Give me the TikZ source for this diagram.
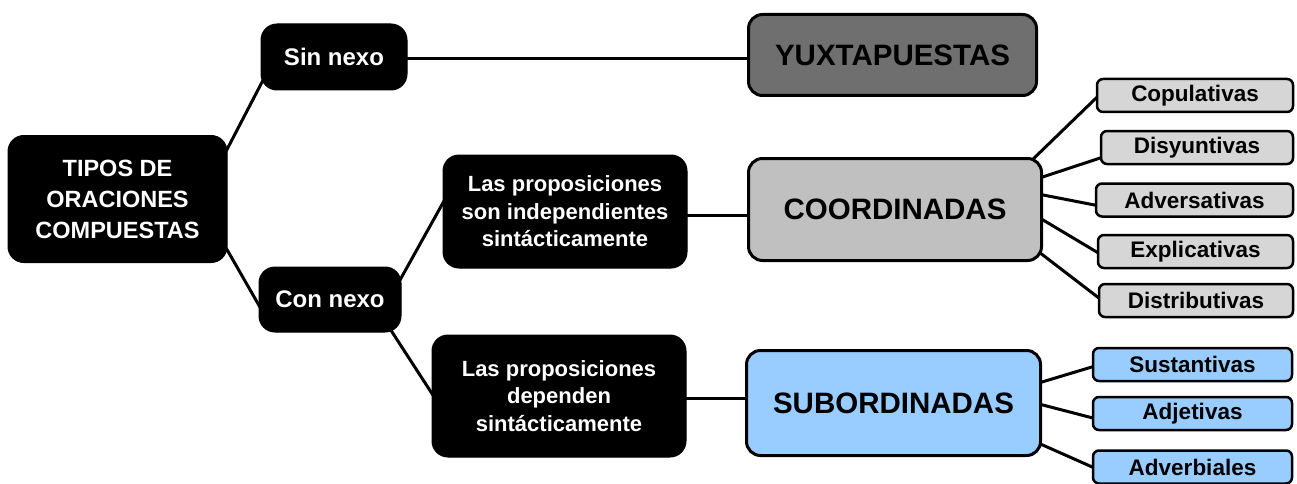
\documentclass[tikz,border=0pt]{standalone}
\usepackage{fontspec}
\setmainfont{Liberation Sans}
\usetikzlibrary{calc}
\pgfdeclarelayer{back}
\pgfdeclarelayer{bg}
\pgfsetlayers{back,bg,main}
\definecolor{yuxgray}{HTML}{6F6F6F}
\definecolor{coordgray}{HTML}{C0C0C0}
\definecolor{smallgray}{HTML}{D6D6D6}
\definecolor{subblue}{HTML}{99CCFF}
\tikzset{
  blackbox/.style={fill=black, draw=black, line width=1pt, rounded corners=16pt, text=white, align=center, inner sep=0pt},
  bigbox/.style={draw=black, line width=3pt, rounded corners=14pt, text=black, align=center, inner sep=0pt,
    font=\fontsize{29.5}{33}\selectfont\bfseries},
  smallbox/.style={draw=black, line width=2.5pt, rounded corners=6pt, text=black, align=center, inner sep=0pt,
    minimum height=33pt, font=\fontsize{22.5}{24}\selectfont\bfseries},
  conn/.style={draw=black, line width=3pt},
}
\begin{document}
\begin{tikzpicture}[x=1pt,y=-1pt]
\begin{pgfonlayer}{back}
\fill[white] (0,0) rectangle (1297,484);
\end{pgfonlayer}
\useasboundingbox (0,0) rectangle (1297,484);
% left black nodes
\node[blackbox, minimum width=219pt, minimum height=127pt, font=\fontsize{23.5}{31}\selectfont\bfseries]
  (root) at (117.5,199) {TIPOS DE\\ORACIONES\\COMPUESTAS};
\node[blackbox, minimum width=146pt, minimum height=66pt, font=\fontsize{24}{28}\selectfont\bfseries]
  (sin) at (334,57) {Sin nexo};
\node[blackbox, minimum width=142pt, minimum height=65pt, font=\fontsize{24}{28}\selectfont\bfseries]
  (con) at (330,299.5) {Con nexo};
\node[blackbox, minimum width=244pt, minimum height=113pt, font=\fontsize{22}{27.5}\selectfont\bfseries]
  (indep) at (565,211.5) {Las proposiciones\\son independientes\\sintácticamente};
\node[blackbox, minimum width=254pt, minimum height=122pt, font=\fontsize{22}{27.5}\selectfont\bfseries]
  (dep) at (559,396) {Las proposiciones\\dependen\\sintácticamente};
% big boxes
\node[bigbox, fill=yuxgray, minimum width=288pt, minimum height=81pt] (yux) at (892.5,55) {YUXTAPUESTAS};
\node[bigbox, fill=coordgray, minimum width=293pt, minimum height=102pt] (coord) at (895,209.5) {COORDINADAS};
\node[bigbox, fill=subblue, minimum width=294pt, minimum height=105pt] (sub) at (893.5,403) {SUBORDINADAS};
% small boxes
\node[smallbox, fill=smallgray, minimum width=196pt] (cop) at (1195,95.5) {Copulativas};
\node[smallbox, fill=smallgray, minimum width=192pt] (dis) at (1197,147.5) {Disyuntivas};
\node[smallbox, fill=smallgray, minimum width=197pt] (adv) at (1194.5,200) {Adversativas};
\node[smallbox, fill=smallgray, minimum width=195pt] (exp) at (1195.5,251.5) {Explicativas};
\node[smallbox, fill=smallgray, minimum width=194pt] (dist) at (1196,300.5) {Distributivas};
\node[smallbox, fill=subblue, minimum width=199pt] (sus) at (1192.5,364.5) {Sustantivas};
\node[smallbox, fill=subblue, minimum width=199pt] (adj) at (1192.5,413.5) {Adjetivas};
\node[smallbox, fill=subblue, minimum width=199pt] (adb) at (1192.5,467) {Adverbiales};
% connectors
\begin{pgfonlayer}{bg}
\draw[conn] ($(root.north east)+(-6,25)$) -- ($(sin.south west)+(6,-17)$);
\draw[conn] ($(root.south east)+(-6,-23)$) -- ($(con.west)+(4,12)$);
\draw[conn] ($(sin.east)+(-5,2)$) -- ($(yux.west)+(5,4)$);
\draw[conn] ($(con.north east)+(-4,18)$) -- ($(indep.west)+(4,-15)$);
\draw[conn] ($(con.south east)+(-13,-6)$) -- ($(dep.west)+(4,3)$);
\draw[conn] ($(indep.east)+(-5,3.5)$) -- ($(coord.west)+(5,5.5)$);
\draw[conn] ($(dep.east)+(-5,2)$) -- ($(sub.west)+(5,-5)$);
\draw[conn] ($(coord.north east)+(-14,6)$) -- ($(cop.west)+(4,-1)$);
\draw[conn] ($(coord.east)+(-5,-31)$) -- ($(dis.west)+(5,9)$);
\draw[conn] ($(coord.east)+(-5,-15.5)$) -- ($(adv.west)+(5,6)$);
\draw[conn] ($(coord.east)+(-5,7.5)$) -- ($(exp.west)+(5,3.5)$);
\draw[conn] ($(coord.east)+(-8,39.5)$) -- ($(dist.west)+(5,0.5)$);
\draw[conn] ($(sub.east)+(-5,-19.5)$) -- ($(sus.west)+(5,1)$);
\draw[conn] ($(sub.east)+(-5,0.5)$) -- ($(adj.west)+(5,5.5)$);
\draw[conn] ($(sub.east)+(-5,39.5)$) -- ($(adb.west)+(5,2)$);
\end{pgfonlayer}
\end{tikzpicture}
\end{document}
